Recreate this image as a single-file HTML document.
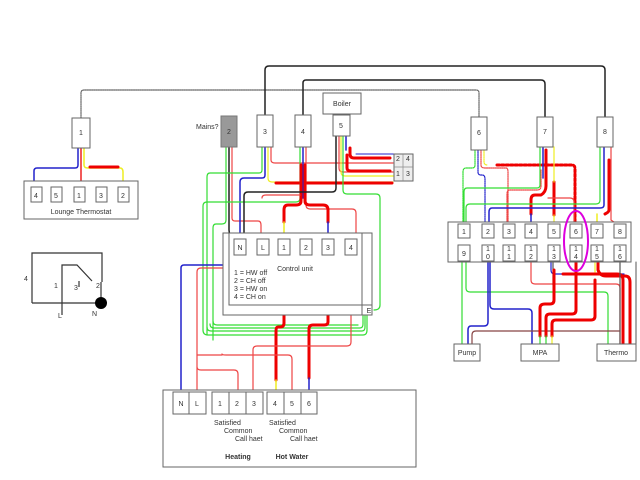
<!DOCTYPE html>
<html><head><meta charset="utf-8"><style>
html,body{margin:0;padding:0;background:#fff}
svg{display:block}
text{font-family:"Liberation Sans",sans-serif;font-size:7px;fill:#333}
</style></head><body>
<svg width="640" height="480" viewBox="0 0 640 480" xmlns="http://www.w3.org/2000/svg">
<g fill="none" stroke-linejoin="round" stroke-linecap="round">
<!-- top wires -->
<path d="M81 118 V93 Q81 90 84 90 H476 Q479 90 479 93 V118" stroke="#666" stroke-width="1.2" stroke-dasharray="1.2 1"/>
<path d="M265 116 V70 Q265 66 269 66 H601 Q605 66 605 70 V117" stroke="#222" stroke-width="1.5"/>
<path d="M303 116 V83 Q303 80 306 80 H541 Q545 80 545 84 V117" stroke="#222" stroke-width="1.5"/>
<!-- thermostat wires -->
<path d="M78 148 V165 Q78 168 75 168 H37 Q34 168 34 171 V188" stroke="#22c" stroke-width="1.5"/>
<path d="M81 148 V188" stroke="#e22" stroke-width="1.5"/>
<path d="M84 148 V165 Q84 168 88 168 H120 Q123 168 123 172 V188" stroke="#ee2" stroke-width="1.5"/>
<path d="M90 167 H118" stroke="#e00" stroke-width="3"/>
<!-- mains wires -->
<path d="M229 147 V230 Q229 235 234 240" stroke="#222" stroke-width="1.5"/>
<path d="M226 147 V220 Q226 224 222 224 H216 Q213 224 213 228 V340" stroke="#3d3" stroke-width="1.2"/>
<path d="M232 147 V218 Q232 221 235 221 H258 Q261 221 261 225 V240" stroke="#e44" stroke-width="1.2"/>
<!-- box3 wires -->
<path d="M262 147 V170 Q262 173 259 173 H210 Q207 173 207 177 V335" stroke="#3d3" stroke-width="1.2"/>
<path d="M265 147 V175 Q265 178 262 178 H244 Q240 178 240 182 V240" stroke="#22c" stroke-width="1.5"/>
<path d="M268 147 V178 Q268 182 272 182 H393" stroke="#ee2" stroke-width="1.2"/>
<path d="M271 147 V160 Q271 163 275 163 H393" stroke="#e44" stroke-width="1.2"/>
<path d="M276 183 H392" stroke="#e00" stroke-width="3"/>
<!-- box4 wires -->
<path d="M300 147 V198 Q300 202 296 202 H207 Q203 202 203 206 V330" stroke="#3d3" stroke-width="1.2"/>
<path d="M303 147 V198" stroke="#22c" stroke-width="1.5"/>
<path d="M306 147 V205 Q306 209 310 209 H352 Q356 209 356 213 V240" stroke="#e44" stroke-width="1.2"/>
<path d="M301 165 V201 Q301 205 296 205 H288 Q284 205 284 210 V222" stroke="#e00" stroke-width="3"/>
<path d="M305 165 V201 Q305 205 310 205 H323 Q328 205 328 210 V222" stroke="#e00" stroke-width="3"/>
<path d="M284 222 V240" stroke="#ee2" stroke-width="1.5"/>
<path d="M328 222 V240" stroke="#22c" stroke-width="1.5"/>
<path d="M262 198 Q262 195 266 195 H300" stroke="#e44" stroke-width="1.2"/>
<path d="M262 198 V240" stroke="#e44" stroke-width="0"/>
<!-- box5 wires -->
<path d="M336 136 V188 Q336 192 332 192 H248 Q244 192 244 196 V240" stroke="#222" stroke-width="1.5"/>
<path d="M339 136 V168 Q339 172 343 172 H393" stroke="#e44" stroke-width="1.2"/>
<path d="M341 136 V172 Q341 176 345 176 H393" stroke="#ee2" stroke-width="1.2"/>
<path d="M343 136 V190 Q343 194 347 194 H376 Q380 194 380 198 V305" stroke="#3d3" stroke-width="1.2"/>
<path d="M346 136 V150" stroke="#22c" stroke-width="1.5"/>
<path d="M346 150 H393" stroke="#22c" stroke-width="0"/>
<path d="M350 148 V154 Q350 158 354 158 H390" stroke="#e00" stroke-width="3"/>
<path d="M347 155 V168 Q347 171 351 171 H390" stroke="#e00" stroke-width="3"/>
<path d="M356 154 H394" stroke="#22c" stroke-width="1"/>
<!-- control unit green loops -->
<path d="M203 330 Q203 335 208 335 H363 Q367 335 367 330 V316" stroke="#3d3" stroke-width="1.2"/>
<path d="M207 327 Q207 331 211 331 H362 Q365 331 365 327 V316" stroke="#3d3" stroke-width="1.2"/>
<path d="M210 324 Q210 328 214 328 H360 Q363 328 363 324 V316" stroke="#3d3" stroke-width="1.2"/>
<path d="M213 321 Q213 325 217 325 H358" stroke="#3d3" stroke-width="1.2"/>
<path d="M380 305 Q380 310 374 310" stroke="#3d3" stroke-width="1.2"/>
<!-- control unit to bottom -->
<path d="M240 258 V262 Q240 265 236 265 H184 Q181 265 181 268 V392" stroke="#22c" stroke-width="1.5"/>
<path d="M262 258 V263 Q262 268 258 268 H201 Q197 268 197 272 V392" stroke="#e44" stroke-width="1.2"/>
<path d="M197 367 Q197 370 201 370 H234 Q238 370 238 374 V392" stroke="#e44" stroke-width="1.2"/>
<path d="M284 275 V323 Q284 327 280 327 H278 Q276 327 276 331 V380" stroke="#e00" stroke-width="3"/>
<path d="M276 380 V392" stroke="#ee2" stroke-width="1.5"/>
<path d="M328 275 V322 Q328 325 324 325 H313 Q309 325 309 329 V378" stroke="#e00" stroke-width="3"/>
<path d="M309 378 V392" stroke="#22c" stroke-width="1.5"/>
<path d="M351 258 V342 Q351 346 347 346 H257 Q253 346 253 350 V392" stroke="#e44" stroke-width="1.2"/>
<path d="M222 354 Q222 355 226 355 H288 Q292 355 292 359 V392" stroke="#e44" stroke-width="1.2"/>
<path d="M197 355 H222" stroke="#e44" stroke-width="1.2"/>
<!-- right side wires -->
<path d="M475 150 V165 Q475 168 472 168 H466 Q463 168 463 172 V224" stroke="#3d3" stroke-width="1.2" stroke-dasharray="1.2 1"/>
<path d="M478 150 V172 Q478 175 481 175 H482 Q485 175 485 179 V224" stroke="#22c" stroke-width="1.2" stroke-dasharray="1.2 1"/>
<path d="M481 150 V165 Q481 168 485 168 H506 Q508 168 508 172 V224" stroke="#e44" stroke-width="1.2" stroke-dasharray="1.2 1"/>
<path d="M484 150 V162 Q484 165 488 165" stroke="#ee2" stroke-width="1.2" stroke-dasharray="1.2 1"/>
<path d="M497 165 H572 Q575 165 575 169 V224" stroke="#e00" stroke-width="3" stroke-dasharray="2.5 2"/>
<path d="M540 147 V185 Q540 188 537 188 H467 Q464 188 464 192 V224" stroke="#3d3" stroke-width="1.2"/>
<path d="M541 170 V186 Q541 190 537 190 H510 Q507 190 507 194 V224" stroke="#e44" stroke-width="1.2" stroke-dasharray="1.2 1"/>
<path d="M543 147 V178" stroke="#22c" stroke-width="1.5"/>
<path d="M546 150 V186 Q546 192 541 195 H535 Q531 195 531 200 V214" stroke="#e00" stroke-width="3"/>
<path d="M531 214 V224" stroke="#22c" stroke-width="1.5"/>
<path d="M554 182 V215" stroke="#e00" stroke-width="3"/>
<path d="M554 215 V224 M554 147 V182" stroke="#ee2" stroke-width="1.2"/>
<path d="M548 198 H570 Q574 198 574 202 V224" stroke="#e44" stroke-width="1.2"/>
<path d="M600 147 V200 Q600 204 596 204 H470 Q466 204 466 208 V224" stroke="#3d3" stroke-width="1.2"/>
<path d="M604 147 V205 Q604 208 600 208 H492 Q489 208 489 212 V224" stroke="#22c" stroke-width="1.5"/>
<path d="M609 160 V210 Q609 212 605 214" stroke="#e00" stroke-width="3"/>
<path d="M597 214 V224" stroke="#ee2" stroke-width="1.5"/>
<path d="M611 147 V220 Q616 224 620 224" stroke="#e44" stroke-width="1.2"/>
<!-- below block -->
<path d="M462 262 V344" stroke="#3d3" stroke-width="1.2"/>
<path d="M466 262 V288 Q466 292 470 292 H604 Q608 292 608 296 V344" stroke="#3d3" stroke-width="1.2"/>
<path d="M488 262 V322 Q488 326 484 326 H471 Q468 326 468 330 V344" stroke="#22c" stroke-width="1.5"/>
<path d="M490 262 V305 Q490 309 494 309 H528 Q532 309 532 313 V344" stroke="#22c" stroke-width="1.5"/>
<path d="M472 344 V335 Q472 331 476 331 H620" stroke="#844" stroke-width="1.2"/>
<path d="M531 262 V280 Q531 284 535 284 H616 Q620 284 620 288 V344" stroke="#e44" stroke-width="1.2"/>
<path d="M551 262 V270 Q551 274 555 274 H624" stroke="#22c" stroke-width="1.2"/>
<path d="M553 262 V285" stroke="#555" stroke-width="1.2"/>
<path d="M554 270 V300 Q554 304 550 304 H545 Q540 304 540 308 V336" stroke="#e00" stroke-width="3"/>
<path d="M563 274 H617 Q623 274 623 280 V344" stroke="#e00" stroke-width="3"/>
<path d="M576 255 V310 Q576 314 572 314 H550 Q546 314 546 318 V336" stroke="#e00" stroke-width="3"/>
<path d="M595 262 V272" stroke="#ee2" stroke-width="1.2"/>
<path d="M595 280 V316 Q595 320 591 320 H556 Q552 320 552 324 V336" stroke="#e00" stroke-width="3"/>
<path d="M598 262 V270 Q600 276 606 276 H625 Q630 276 630 282 V344" stroke="#e00" stroke-width="3"/>
<path d="M540 336 V344 M546 336 V344" stroke="#3d3" stroke-width="1.2"/>
<path d="M552 336 V344" stroke="#ee2" stroke-width="1.2"/>
<path d="M620 262 V344" stroke="#555" stroke-width="1.2"/>
<path d="M636 262 V361" stroke="#555" stroke-width="1"/>
</g>
<!-- boxes -->
<g fill="#fff" stroke="#666" stroke-width="1">
<rect x="72" y="118" width="18" height="30"/>
<rect x="24" y="181" width="114" height="38"/>
<rect x="31" y="187" width="11" height="15"/><rect x="51" y="187" width="11" height="15"/><rect x="74" y="187" width="11" height="15"/><rect x="96" y="187" width="11" height="15"/><rect x="118" y="187" width="11" height="15"/>
<rect x="257" y="115" width="16" height="32"/>
<rect x="295" y="115" width="16" height="32"/>
<rect x="323" y="93" width="38" height="21"/>
<rect x="333" y="115" width="17" height="21"/>
<rect x="394" y="154" width="19" height="27" fill="#eee"/>
<rect x="223" y="233" width="149" height="82"/>
<rect x="229" y="233" width="133" height="72"/>
<rect x="362" y="305" width="10" height="10"/>
<rect x="234" y="239" width="12" height="16"/><rect x="257" y="239" width="12" height="16"/><rect x="278" y="239" width="12" height="16"/><rect x="300" y="239" width="12" height="16"/><rect x="322" y="239" width="12" height="16"/><rect x="345" y="239" width="12" height="16"/>
<rect x="163" y="390" width="253" height="77"/>
<rect x="173" y="392" width="16" height="22"/><rect x="189" y="392" width="17" height="22"/><rect x="212" y="392" width="17" height="22"/><rect x="229" y="392" width="17" height="22"/><rect x="246" y="392" width="17" height="22"/><rect x="267" y="392" width="17" height="22"/><rect x="284" y="392" width="17" height="22"/><rect x="301" y="392" width="16" height="22"/>
<rect x="471" y="117" width="16" height="33"/>
<rect x="537" y="117" width="16" height="30"/>
<rect x="597" y="117" width="16" height="30"/>
<rect x="448" y="222" width="183" height="40"/>
<rect x="458" y="224" width="12" height="14"/><rect x="482" y="224" width="12" height="14"/><rect x="503" y="224" width="12" height="14"/><rect x="525" y="224" width="12" height="14"/><rect x="548" y="224" width="12" height="14"/><rect x="570" y="224" width="12" height="14"/><rect x="591" y="224" width="12" height="14"/><rect x="614" y="224" width="12" height="14"/>
<rect x="458" y="245" width="12" height="16"/><rect x="482" y="245" width="12" height="16"/><rect x="503" y="245" width="12" height="16"/><rect x="525" y="245" width="12" height="16"/><rect x="548" y="245" width="12" height="16"/><rect x="570" y="245" width="12" height="16"/><rect x="591" y="245" width="12" height="16"/><rect x="614" y="245" width="12" height="16"/>
<rect x="454" y="344" width="26" height="17"/>
<rect x="521" y="344" width="38" height="17"/>
<rect x="597" y="344" width="39" height="17"/>
</g>
<rect x="221" y="116" width="16" height="31" fill="#999" stroke="#777"/>
<g stroke="#888" stroke-width="0.7"><line x1="403" y1="154" x2="403" y2="181"/><line x1="394" y1="167" x2="413" y2="167"/></g>
<ellipse cx="576" cy="241" rx="12" ry="30" fill="none" stroke="#d0d" stroke-width="2"/>
<!-- switch symbol -->
<g fill="none" stroke="#333" stroke-width="1.2">
<path d="M32 303 V253 H102 V282"/>
<path d="M32 303 H95"/>
<path d="M62 315 V265 H77 L92 281"/>
<path d="M101 282 V297"/>
<path d="M79 281 V287"/>
</g>
<circle cx="101" cy="303" r="6" fill="#000"/>
<!-- text -->
<g text-anchor="middle">
<text x="81" y="135">1</text>
<text x="36" y="198">4</text><text x="56" y="198">5</text><text x="79" y="198">1</text><text x="101" y="198">3</text><text x="123" y="198">2</text>
<text x="81" y="214">Lounge Thermostat</text>
<text x="265" y="134">3</text><text x="303" y="134">4</text>
<text x="342" y="106">Boiler</text><text x="341" y="128">5</text>
<text x="229" y="134" font-size="6">2</text>
<text x="240" y="250">N</text><text x="263" y="250">L</text><text x="284" y="250">1</text><text x="306" y="250">2</text><text x="328" y="250">3</text><text x="351" y="250">4</text>
<text x="295" y="271">Control unit</text>
<text x="369" y="313">E</text>
<text x="181" y="406">N</text><text x="197" y="406">L</text><text x="220" y="406">1</text><text x="237" y="406">2</text><text x="254" y="406">3</text><text x="275" y="406">4</text><text x="292" y="406">5</text><text x="309" y="406">6</text>
<text x="238" y="459" font-weight="bold">Heating</text>
<text x="292" y="459" font-weight="bold">Hot Water</text>
<text x="479" y="135">6</text><text x="545" y="134">7</text><text x="605" y="134">8</text>
<text x="464" y="234">1</text><text x="488" y="234">2</text><text x="509" y="234">3</text><text x="531" y="234">4</text><text x="554" y="234">5</text><text x="576" y="234">6</text><text x="597" y="234">7</text><text x="620" y="234">8</text>
<text x="464" y="256">9</text>
<text x="488" y="251">1</text><text x="488" y="259">0</text>
<text x="509" y="251">1</text><text x="509" y="259">1</text>
<text x="531" y="251">1</text><text x="531" y="259">2</text>
<text x="554" y="251">1</text><text x="554" y="259">3</text>
<text x="576" y="251">1</text><text x="576" y="259">4</text>
<text x="597" y="251">1</text><text x="597" y="259">5</text>
<text x="620" y="251">1</text><text x="620" y="259">6</text>
<text x="467" y="355">Pump</text><text x="540" y="355">MPA</text><text x="616" y="355">Thermo</text>
<text x="398" y="161" font-size="5">2</text><text x="408" y="161" font-size="5">4</text><text x="398" y="176" font-size="5">1</text><text x="408" y="176" font-size="5">3</text>
</g>
<text x="196" y="129">Mains?</text>
<text x="234" y="275">1 = HW off</text>
<text x="234" y="283">2 = CH off</text>
<text x="234" y="291">3 = HW on</text>
<text x="234" y="299">4 = CH on</text>
<text x="214" y="425">Satisfied</text><text x="224" y="433">Common</text><text x="235" y="441">Call haet</text>
<text x="269" y="425">Satisfied</text><text x="279" y="433">Common</text><text x="290" y="441">Call haet</text>
<text x="24" y="281">4</text><text x="54" y="288">1</text><text x="74" y="290">3</text><text x="96" y="288">2</text>
<text x="58" y="318">L</text><text x="92" y="316">N</text>
</svg>
</body></html>
